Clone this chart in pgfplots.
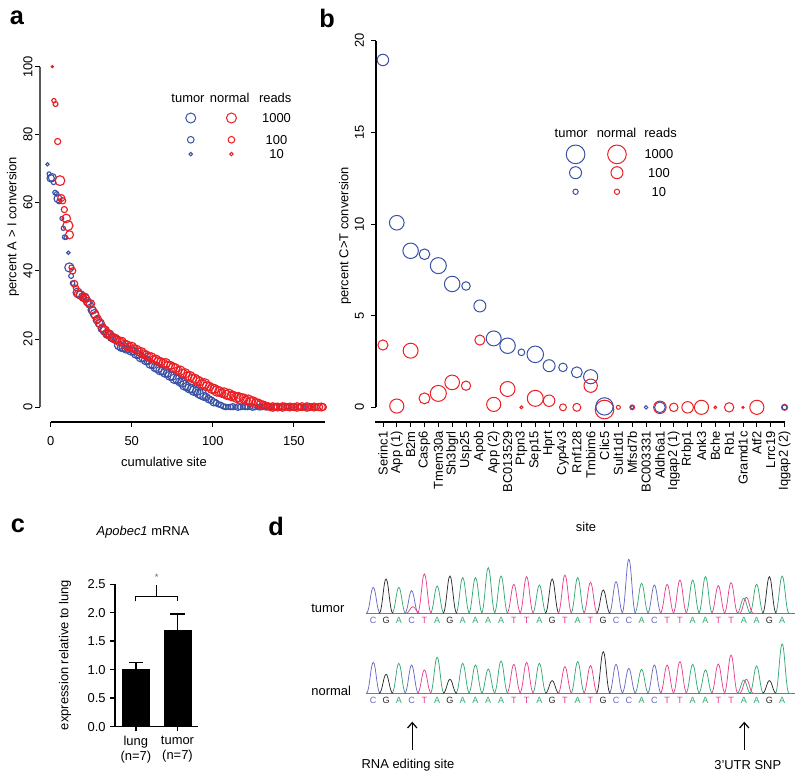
\documentclass[border=0pt]{standalone}
\usepackage{pgfplots}
\usepackage{pgfplotstable}
\pgfplotsset{compat=1.18}
\usetikzlibrary{arrows.meta}
\usepackage{fontspec}
\setmainfont{Liberation Sans}
\newcommand\lbl{\fontsize{9.7}{11}\selectfont}
\newcommand\tagfont{\fontsize{19}{20}\selectfont\bfseries}
\definecolor{tumorblue}{RGB}{58,82,164}
\definecolor{normalred}{RGB}{236,30,36}
\definecolor{colA}{RGB}{52,168,112}
\definecolor{colC}{RGB}{104,104,196}
\definecolor{colG}{RGB}{40,40,40}
\definecolor{colT}{RGB}{232,62,142}

% one chromatogram peak, height = mark size
\pgfdeclareplotmark{peak}{%
  \pgfpathmoveto{\pgfqpoint{-5.2pt}{0pt}}%
  \pgfpathcurveto{\pgfqpoint{-2.8pt}{0pt}}{\pgfqpoint{-1.9pt}{\pgfplotmarksize}}{\pgfqpoint{0pt}{\pgfplotmarksize}}%
  \pgfpathcurveto{\pgfqpoint{1.9pt}{\pgfplotmarksize}}{\pgfqpoint{2.8pt}{0pt}}{\pgfqpoint{5.2pt}{0pt}}%
  \pgfusepathqstroke}

\pgfplotsset{
  rplot/.style={scale only axis, axis lines*=left, axis line style={draw=none},
    tick align=outside, major tick length=3.5pt, tick style={black, line width=0.6pt},
    clip=false, ticklabel style={font=\lbl}, /pgf/number format/assume math mode=true},
  bubble/.style={scatter, only marks, mark=o,
    scatter/use mapped color={draw=#1, fill=none},
    visualization depends on={\thisrow{r}\as\rr},
    scatter/@pre marker code/.append style={/tikz/mark size=\rr pt},
    mark options={line width=0.75pt}},
  dots/.style={bubble=#1, visualization depends on={1.15*\thisrow{r}\as\rr},
    mark options={line width=0.85pt}},
  peaks/.style={scatter, only marks, mark=peak,
    scatter/use mapped color={draw=#1, fill=none},
    visualization depends on={0.75*\thisrow{h}\as\hh},
    scatter/@pre marker code/.append style={/tikz/mark size=\hh},
    mark options={line width=0.55pt}},
  letters/.style={draw=none, nodes near coords={#1}, nodes near coords align={center},
    every node near coord/.append style={font=\fontsize{6.8}{7}\selectfont, inner sep=0pt, text=col#1}},
}

% panel a: normal (red) and tumor (blue), x = rank, y = percent, r = circle radius (pt)
\pgfplotstableread{
x y r
1 100 0.7
2 90 1.4
3 89 1.6
4.3 78 2.0
5.7 66.5 3.2
6.5 61.4 2.3
7.4 60.6 2.0
8.4 58 2.0
9.6 55.4 2.8
10.6 53.3 3.3
11.6 50.6 2.6
12.8 41 1.6
13.6 40 2.0
14.6 36.2 2.2
15.6 35 1.8
17 33.2 2.6
18.5 32.9 2.8
20 32.1 2.4
21.5 31.9 2.6
23 30.6 2.4
24.5 30.3 2.8
26 28.4 2.4
27.5 26.9 2.6
29 25.9 2.4
30.5 24.6 2.8
32 23.3 2.6
33.5 22.4 3.0
35 21.4 2.8
36.5 21.3 2.6
38 20.6 2.4
39.5 20.1 3.0
41 19.8 2.6
42.5 19.2 2.8
44 19.3 2.6
45.5 18.4 2.8
47 18.3 2.6
48.5 17.6 2.8
50 17.7 3.0
51.5 17.1 2.6
53 16.9 2.8
54.5 16.2 2.6
56 16.1 3.0
57.5 15.5 2.8
59 15.3 2.6
60.5 14.7 2.8
62 14.6 3.0
63.5 13.9 2.6
65 14.0 2.8
66.5 13.4 3.0
68 13.3 2.6
69.5 12.8 2.8
71 12.9 3.0
72.5 12.2 2.8
74 12.2 2.6
75.5 11.6 3.0
77 11.4 2.8
78.5 10.7 2.6
80 10.7 3.0
81.5 9.9 2.8
83 9.9 3.0
84.5 9.1 2.8
86 9.0 3.2
87.5 8.4 2.8
89 8.3 3.0
90.5 7.7 3.2
92 7.5 2.8
93.5 6.8 3.0
95 6.8 3.4
96.5 6.1 3.0
98 6.0 2.8
99.5 5.4 3.2
101 5.3 3.0
102.5 4.7 3.4
104 4.6 3.0
105.5 4.1 2.8
107 4.2 3.2
108.5 3.6 3.0
110 3.7 3.4
111.5 3.2 3.0
113 3.3 2.8
114.5 2.8 3.2
116 2.9 3.0
117.5 2.4 3.4
119 2.5 3.0
120.5 2.0 2.8
122 2.1 3.2
123.5 1.6 3.0
125 1.7 2.8
126.5 1.1 3.0
128 1.2 2.6
129.5 0.7 2.8
131 0.7 2.4
132.5 0.3 2.6
134 0.3 2.2
135.5 0 2.4
137 0 2.8
138.5 0.1 2.2
140 0 2.6
141.5 0 2.0
143 0 2.8
144.5 0.1 2.4
146 0 2.2
147.5 0 2.6
149 0 2.0
150.5 0 2.4
152 0 2.8
153.5 0 2.2
155 0.1 2.6
156.5 0 2.0
158 0 2.8
159.5 0 2.4
161 0 2.2
162.5 0 2.6
164 0 2.0
165.5 0 2.4
167 0 2.6
168 0 2.2
}\normalA

\pgfplotstableread{
x y r
-2 71.3 1.1
-1 68.5 1.3
0 67.2 2.4
1 67.4 2.6
1.8 66 1.5
2.7 63 1.5
3.7 62.6 1.5
4.5 61.2 2.6
5.2 60.4 1.6
6.9 55.4 1.3
7.8 52.5 1.4
8.6 49.9 1.5
9.4 49.8 1.3
10.9 45.3 1.1
11.5 41.0 3.0
12.6 38.5 1.6
13.5 36.4 1.5
16.6 33.6 3.0
18 33.0 2.6
19.5 32.4 2.4
21 32.2 2.8
22.5 31.0 2.6
24 30.1 2.4
25.5 28.5 2.6
27 27.4 2.8
28.5 25.5 2.4
30 24.5 2.6
31.5 23.0 2.4
33 22.6 2.8
34.5 21.6 2.6
36 21.3 3.0
37.5 20.4 2.6
39 20.3 2.4
40.5 19.7 2.6
42 18.1 2.8
43.5 17.5 2.6
45 17.6 3.0
46.5 17.0 2.6
48 17.0 2.4
49.5 16.5 2.8
51 16.4 2.6
52.5 15.6 2.8
54 15.4 2.6
55.5 14.6 3.0
57 14.4 2.6
58.5 13.7 2.8
60 13.6 2.6
61.5 12.7 3.0
63 12.4 2.6
64.5 11.6 2.8
66 11.4 3.0
67.5 10.7 2.8
69 10.6 2.6
70.5 10.0 2.8
72 9.9 2.6
73.5 9.2 3.0
75 9.1 2.8
76.5 8.3 3.2
78 8.1 2.8
79.5 7.4 2.6
81 7.2 3.0
82.5 6.4 3.2
84 6.0 2.8
85.5 5.5 3.0
87 5.4 2.8
88.5 4.8 3.2
90 4.6 2.8
91.5 4.0 3.0
93 3.8 3.4
94.5 3.1 2.6
96 2.9 2.4
97.5 2.3 2.4
99 2.0 2.2
100.5 1.4 2.4
102 1.2 2.0
103.5 0.8 1.8
105 0.6 1.8
106.5 0.2 1.8
108 0 1.8
109.5 0 1.6
111 0 1.8
112.5 0.1 2.0
114 0 1.6
115.5 0 2.2
117 0 1.8
118.5 0 1.6
120 0.1 2.0
121.5 0 1.8
123 0 1.6
124.5 0 2.2
126 0 1.8
127.5 0 1.6
129 0 2.0
130.5 0 1.8
132 0.1 1.6
133.5 0 2.0
135 0 1.8
136.5 0 1.6
138 0 2.2
139.5 0 1.8
141 0 1.6
142.5 0 2.0
144 0 1.8
145.5 0.1 1.6
147 0 2.0
148.5 0 1.8
150 0 2.2
151.5 0 1.6
153 0 1.8
154.5 0 2.0
156 0 1.6
157.5 0 1.8
159 0 2.2
160.5 0 1.6
162 0 1.8
}\tumorA

\begin{document}
\begin{tikzpicture}
\useasboundingbox (0,0) rectangle (600pt,585pt);

% ---------------- panel a
\begin{axis}[rplot, at={(30pt,268.5pt)}, anchor=south west, width=222pt, height=276.75pt,
  xmin=-6.6, xmax=176, ymin=-4.4, ymax=104,
  xtick={0,50,100,150}, ytick={0,20,40,60,80,100},
  yticklabel style={rotate=90, anchor=south, yshift=-1.5pt},
  xticklabel style={yshift=-4pt}]
\draw[black!65, line width=0.8pt] (axis cs:-6.6,0) -- (axis cs:-6.6,100);
\draw[black, line width=0.8pt] (axis cs:0,-4.4) -- (axis cs:169,-4.4);
\addplot[dots=tumorblue] table {\tumorA};
\addplot[dots=normalred] table {\normalA};
% legend
\addplot[bubble=tumorblue] table {
x y r
86.4 84.9 3.75
86.4 78.5 2.5
86.4 74.3 1.3
};
\addplot[bubble=normalred] table {
x y r
111.5 84.9 3.75
111.5 78.5 2.5
111.5 74.3 1.3
};
\node[font=\lbl] at (axis cs:84.7,90.8) {tumor};
\node[font=\lbl] at (axis cs:110.4,90.8) {normal};
\node[font=\lbl] at (axis cs:138.5,90.8) {reads};
\node[font=\lbl] at (axis cs:139.3,84.9) {1000};
\node[font=\lbl] at (axis cs:139.3,78.5) {100};
\node[font=\lbl] at (axis cs:139.3,74.3) {10};
\end{axis}

% ---------------- panel b
\begin{axis}[rplot, at={(282pt,268.5pt)}, anchor=south west, width=311.6pt, height=294.2pt,
  xmin=-0.5, xmax=29.5, ymin=-0.8, ymax=20.6,
  xtick={0,...,29},
  xticklabels={Serinc1, App (1), B2m, Casp6, Tmem30a, Sh3bgrl, Usp25, Apob, App (2), BC013529,
    Ptpn3, Sep15, Hprt, Cyp4v3, Rnf128, Tmbim6, Clic5, Sult1d1, Mfsd7b, BC003331,
    Aldh6a1, Iqgap2 (1), Rrbp1, Ank3, Bche, Rb1, Gramd1c, Atf2, Lrrc19, Iqgap2 (2)},
  xticklabel style={rotate=90, anchor=east},
  ytick={0,5,10,15,20}, yticklabel style={rotate=90, anchor=south, yshift=2pt}]
\draw[black, line width=0.8pt] (axis cs:-0.5,0) -- (axis cs:-0.5,20);
\draw[black, line width=0.8pt] (axis cs:-0.55,-0.8) -- (axis cs:29,-0.8);
\addplot[bubble=normalred] table {
x y r
0 3.4 3.8
1 0.07 5.3
2 3.09 5.6
3 0.49 4.1
4 0.76 6.0
5 1.36 5.5
6 1.18 3.5
7 3.67 3.8
8 0.16 5.3
9 1.0 5.6
10 0 1.1
11 0.49 6.0
12 0.36 4.3
13 0 2.6
14 0 3.0
15 1.18 5.0
16 -0.12 7.0
17 0 1.5
18 0 1.8
20 0 4.7
21 0 3.2
22 0 4.3
23 0 5.3
24 0 1.0
25 0 3.5
26 0 0.8
27 0 5.3
29 0 2.3
};
\addplot[bubble=tumorblue] table {
x y r
0 18.95 4.3
1 10.07 5.5
2 8.54 5.8
3 8.35 4.0
4 7.73 6.0
5 6.73 5.8
6 6.62 3.2
7 5.53 4.5
8 3.76 5.6
9 3.36 5.8
10 3.0 2.5
11 2.89 6.2
12 2.27 4.5
13 2.18 3.2
14 1.91 4.1
15 1.67 5.3
16 0.05 6.5
18 0 1.4
19 0 1.3
20 0 4.0
29 0 1.8
};
% legend
\addplot[bubble=tumorblue] table {
x y r
13.91 13.8 7
13.91 12.8 4.5
13.91 11.76 2
};
\addplot[bubble=normalred] table {
x y r
16.9 13.8 7
16.9 12.8 4.5
16.9 11.76 2
};
\node[font=\lbl] at (axis cs:13.6,14.96) {tumor};
\node[font=\lbl] at (axis cs:16.87,14.96) {normal};
\node[font=\lbl] at (axis cs:20.05,14.96) {reads};
\node[font=\lbl] at (axis cs:19.93,13.8) {1000};
\node[font=\lbl] at (axis cs:19.93,12.8) {100};
\node[font=\lbl] at (axis cs:19.93,11.76) {10};
\end{axis}

% ---------------- panel c
\begin{axis}[scale only axis, at={(86.25pt,40pt)}, anchor=south west, width=62.5pt, height=106.8pt,
  xmin=0.5, xmax=2.5, ymin=0, ymax=2.5, axis lines*=left,
  axis line style={line width=1.1pt}, tick align=outside, major tick length=3.5pt,
  tick style={line width=1.1pt, black}, clip=false,
  xtick={1,2}, xticklabels={{lung\\(n=7)},{tumor\\(n=7)}},
  xticklabel style={align=center, font=\lbl},
  ytick={0,0.5,1,1.5,2,2.5},
  yticklabel style={font=\lbl, /pgf/number format/.cd, fixed, fixed zerofill, precision=1},
  /pgf/number format/assume math mode=true]
\addplot[ybar, bar width=20.25pt, fill=black, draw=black,
  error bars/.cd, y dir=plus, y explicit,
  error bar style={line width=1pt, black},
  error mark options={rotate=90, mark size=5.5pt, line width=1pt, black}]
  coordinates {(1,1.0) +- (0,0.13) (2,1.69) +- (0,0.29)};
\draw[line width=0.9pt] (axis cs:1,2.2) -- (axis cs:1,2.28) -- (axis cs:2,2.28) -- (axis cs:2,2.2);
\draw[line width=0.9pt] (axis cs:1.5,2.28) -- (axis cs:1.5,2.49);
\node[font=\fontsize{7}{7}\selectfont, text=black!60] at (axis cs:1.5,2.62) {*};
\end{axis}

% ---------------- panel d (chromatograms: tumor baseline at 80, normal at 0)
\begin{axis}[scale only axis, hide axis, clip=false, at={(274.2pt,50pt)}, anchor=south west,
  width=322pt, height=120pt, xmin=-0.6, xmax=33, ymin=-20, ymax=140]
\addplot[colT, line width=0.6pt] coordinates {(-0.6,80) (33,80)};
\addplot[colT, line width=0.6pt] coordinates {(-0.6,0) (33,0)};
\addplot[peaks=colA] table {
x y h
2 80 26
5 80 27.3
7 80 35.7
8 80 35.7
9 80 45.7
10 80 37.3
13 80 28.3
16 80 35.7
21 80 30
25 80 33.3
26 80 36.7
29 80 15
30 80 29
32 80 37.3
};
\addplot[peaks=colC] table {
x y h
0 80 26
3 80 22.7
19 80 31.7
20 80 54
22 80 28.3
};
\addplot[peaks=colG] table {
x y h
1 80 34.3
6 80 37.3
14 80 34.3
18 80 23.3
31 80 36.7
};
\addplot[peaks=colT] table {
x y h
3.1 80 6.7
4 80 39.3
11 80 29
12 80 36.7
15 80 38.3
17 80 31
23 80 29
24 80 33.3
27 80 27.7
28 80 30.7
29.2 80 16
};
\addplot[peaks=colA] table {
x y h
2 0 30
5 0 36
7 0 30
8 0 28.3
9 0 24.3
10 0 32.3
13 0 30
16 0 31.7
21 0 24
25 0 29
26 0 23.3
29 0 13.3
30 0 27.3
32 0 49.3
};
\addplot[peaks=colC] table {
x y h
0 0 31
3 0 28.3
19 0 29
20 0 25
22 0 28.3
};
\addplot[peaks=colG] table {
x y h
1 0 19
6 0 14
14 0 12.7
18 0 41.7
31 0 12.7
};
\addplot[peaks=colT] table {
x y h
4 0 23.3
11 0 29
12 0 31
15 0 26.7
17 0 27.7
23 0 28.3
24 0 31.7
27 0 29.3
28 0 38.3
29.2 0 14
};
% base calls
\addplot[letters=A] coordinates {(2,72.6) (5,72.6) (7,72.6) (8,72.6) (9,72.6) (10,72.6) (13,72.6) (16,72.6) (21,72.6) (25,72.6) (26,72.6) (29,72.6) (30,72.6) (32,72.6)};
\addplot[letters=C] coordinates {(0,72.6) (3,72.6) (19,72.6) (20,72.6) (22,72.6)};
\addplot[letters=G] coordinates {(1,72.6) (6,72.6) (14,72.6) (18,72.6) (31,72.6)};
\addplot[letters=T] coordinates {(4,72.6) (11,72.6) (12,72.6) (15,72.6) (17,72.6) (23,72.6) (24,72.6) (27,72.6) (28,72.6)};
\addplot[letters=A] coordinates {(2,-6.7) (5,-6.7) (7,-6.7) (8,-6.7) (9,-6.7) (10,-6.7) (13,-6.7) (16,-6.7) (21,-6.7) (25,-6.7) (26,-6.7) (29,-6.7) (30,-6.7) (32,-6.7)};
\addplot[letters=C] coordinates {(0,-6.7) (3,-6.7) (19,-6.7) (20,-6.7) (22,-6.7)};
\addplot[letters=G] coordinates {(1,-6.7) (6,-6.7) (14,-6.7) (18,-6.7) (31,-6.7)};
\addplot[letters=T] coordinates {(4,-6.7) (11,-6.7) (12,-6.7) (15,-6.7) (17,-6.7) (23,-6.7) (24,-6.7) (27,-6.7) (28,-6.7)};
\end{axis}

% ---------------- free text
\node[font=\tagfont] at (12.75pt,571.5pt) {a};
\node[font=\tagfont] at (245.25pt,571.5pt) {b};
\node[font=\tagfont] at (13.5pt,190.7pt) {c};
\node[font=\tagfont] at (207pt,190.5pt) {d};
\node[font=\lbl, rotate=90] at (9.75pt,414.75pt) {percent A > I conversion};
\node[font=\lbl] at (123pt,238.5pt) {cumulative site};
\node[font=\lbl, rotate=90] at (258.75pt,408pt) {percent C>T conversion};
\node[font=\lbl] at (439.5pt,190pt) {site};
\node[font=\lbl] at (107.25pt,186.2pt) {\textit{Apobec1} mRNA};
\node[font=\lbl, rotate=90] at (48.75pt,93.75pt) {expression relative to lung};
\node[font=\lbl, anchor=west] at (230pt,128.8pt) {tumor};
\node[font=\lbl, anchor=west] at (230pt,67pt) {normal};
\draw[-{Straight Barb[length=4pt,width=7pt]}, line width=0.9pt] (309.2pt,22.5pt) -- (309.2pt,43.7pt);
\draw[-{Straight Barb[length=4pt,width=7pt]}, line width=0.9pt] (558.2pt,22.5pt) -- (558.2pt,43.7pt);
\node[font=\lbl] at (306pt,11.25pt) {RNA editing site};
\node[font=\lbl] at (560.8pt,11.25pt) {3’UTR SNP};
\end{tikzpicture}
\end{document}
